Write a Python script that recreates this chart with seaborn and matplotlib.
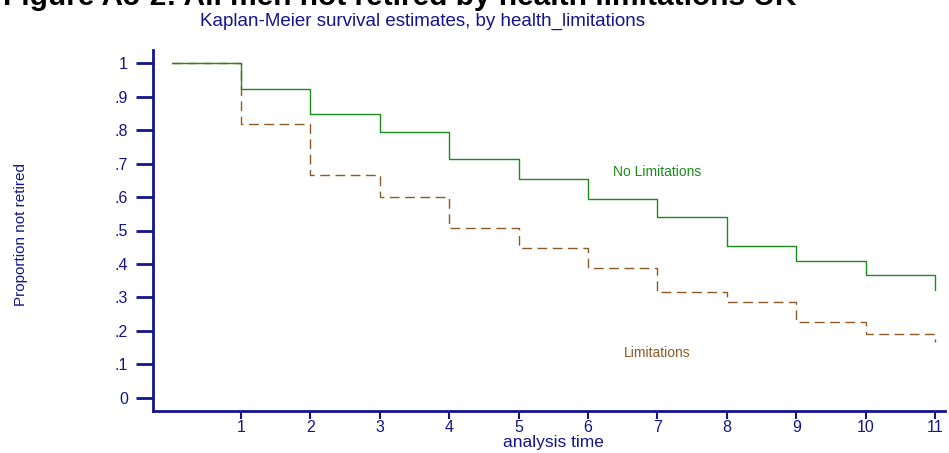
import matplotlib
matplotlib.use("Agg")
import matplotlib.pyplot as plt
import seaborn as sns
import pandas as pd

times = [0, 1, 2, 3, 4, 5, 6, 7, 8, 9, 10, 11]
no_limitations = [1.0, 0.922, 0.848, 0.794, 0.713, 0.654, 0.594, 0.540, 0.454, 0.409, 0.367, 0.322]
limitations = [1.0, 0.818, 0.666, 0.600, 0.507, 0.448, 0.388, 0.316, 0.287, 0.227, 0.191, 0.167]
y_ticks = [0, 0.1, 0.2, 0.3, 0.4, 0.5, 0.6, 0.7, 0.8, 0.9, 1.0]
y_tick_labels = ["0", ".1", ".2", ".3", ".4", ".5", ".6", ".7", ".8", ".9", "1"]
x_ticks = [1, 2, 3, 4, 5, 6, 7, 8, 9, 10, 11]

sns.set_theme(style="white")
plt.rcParams["font.family"] = ["Liberation Sans", "DejaVu Sans"]

NAVY = "#14148c"
GREEN = "#1a8c1a"
BROWN = "#8c5a28"

df_no = pd.DataFrame({"time": times, "surv": no_limitations})
df_lim = pd.DataFrame({"time": times, "surv": limitations})

fig = plt.figure(figsize=(9.49, 4.53), dpi=100)
ax = fig.add_axes([153 / 949, 42 / 453, (945 - 153) / 949, (411 - 50) / 453])

sns.lineplot(data=df_lim, x="time", y="surv", ax=ax, estimator=None,
             drawstyle="steps-post", color=BROWN, linewidth=1.0,
             linestyle=(0, (7, 4)))
sns.lineplot(data=df_no, x="time", y="surv", ax=ax, estimator=None,
             drawstyle="steps-post", color=GREEN, linewidth=1.0)

ax.set_xlim(-0.268, 11.144)
ax.set_ylim(-0.039, 1.039)

ax.set_yticks(y_ticks)
ax.set_yticklabels(y_tick_labels)
ax.set_xticks(x_ticks)
ax.set_xticklabels([str(t) for t in x_ticks])

for s in ["top", "right"]:
    ax.spines[s].set_visible(False)
for s in ["left", "bottom"]:
    ax.spines[s].set_color(NAVY)
    ax.spines[s].set_linewidth(2)

ax.tick_params(axis="y", which="major", direction="out", length=12, width=2,
               color=NAVY, labelcolor=NAVY, labelsize=11.5, pad=6, left=True)
ax.tick_params(axis="x", which="major", direction="out", length=6, width=1.5,
               color=NAVY, labelcolor=NAVY, labelsize=11.5, pad=0.5, bottom=True)

ax.set_xlabel("analysis time", color=NAVY, fontsize=12.5, va="center")
ax.xaxis.set_label_coords((553 - 153) / 792, (411 - 443) / 361)
ax.set_ylabel("")
fig.text(21 / 949, 1 - 234 / 453, "Proportion not retired", rotation=90,
         color=NAVY, fontsize=11, ha="center", va="center")

ax.text(7.0, 0.675, "No Limitations", color=GREEN, fontsize=10, ha="center", va="center")
ax.text(7.0, 0.134, "Limitations", color=BROWN, fontsize=10, ha="center", va="center")

fig.text(422 / 949, 1 - 26 / 453, "Kaplan-Meier survival estimates, by health_limitations",
         color=NAVY, fontsize=13.5, ha="center", va="baseline")
fig.text(400 / 949, 1 - 5 / 453, "Figure A5-2: All men not retired by health limitations UK",
         color="black", fontsize=21.5, fontweight="bold", ha="center", va="baseline")

ax.grid(False)
fig.savefig("out.png", dpi=100)
